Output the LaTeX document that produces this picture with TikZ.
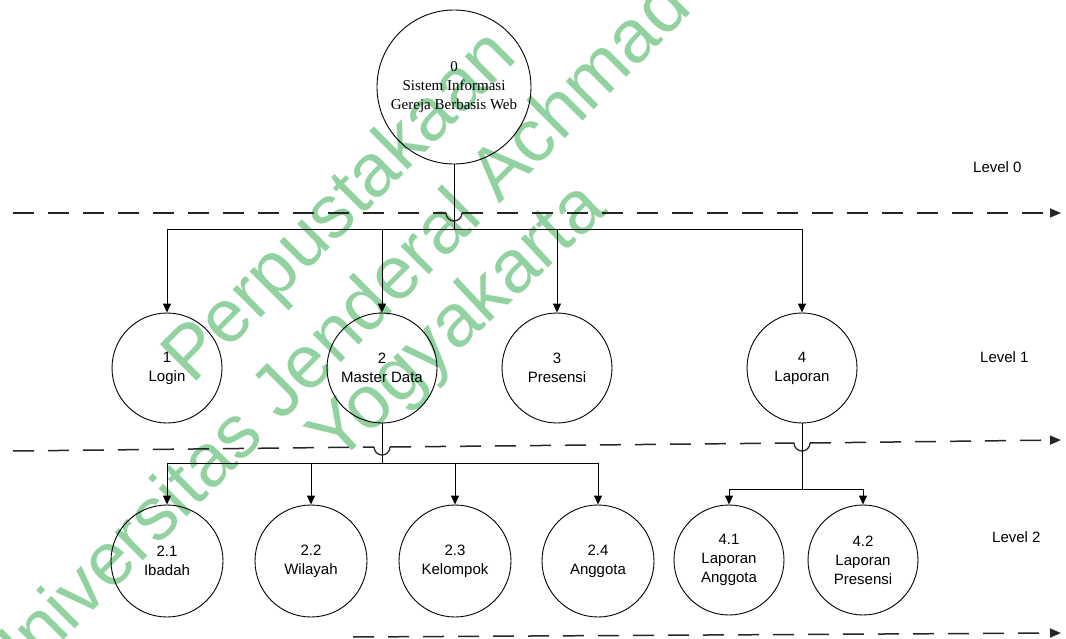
\documentclass[tikz,border=0pt]{standalone}
\usepackage{fontspec}
\setmainfont{Liberation Sans}
\newfontfamily\ctxserif{Liberation Serif}
\usetikzlibrary{arrows.meta}
\definecolor{wmgreen}{RGB}{146,210,160}
\begin{document}
\begin{tikzpicture}[x=1pt,y=-1pt,
  proc/.style={circle,draw,line width=0.9pt,minimum size=110pt,inner sep=0pt,align=center,
    font=\fontsize{15}{19}\selectfont},
  flow/.style={line width=0.9pt,-{Triangle[length=9pt,width=8pt]}},
  link/.style={line width=0.9pt},
  levelline/.style={line width=1.5pt,black!85,dash pattern=on 21pt off 14pt},
  levelhead/.style={-{Triangle[length=11pt,width=9pt]}},
  hop/.style={line width=1.3pt,black!85},
  levellabel/.style={font=\fontsize{15}{18}\selectfont,anchor=west,inner sep=0pt},
  wm/.style={text=wmgreen,font=\fontsize{75}{78}\selectfont,anchor=base west,rotate=44,inner sep=0pt}]

\useasboundingbox (0,0) rectangle (1066,639);

% library watermark
\begin{scope}
  \clip (0,0) rectangle (1066,639);
  \node[wm,rotate=1] (wm1) at (192,386) {Perpustakaan};
  \node[wm,rotate=1] (wm2) at (4,700) {Universitas Jenderal Achmad Yani};
  \node[wm,rotate=-1] (wm3) at (336,466) {Yogyakarta};
\end{scope}

% context process
\node[proc,minimum size=154pt,font=\ctxserif\fontsize{15}{19}\selectfont] (p0) at (454,87)
  {0\\Sistem Informasi\\Gereja Berbasis Web};

% level 1 processes
\node[proc] (p1) at (167,368) {1\\Login};
\node[proc] (p2) at (382,368) {2\\Master Data};
\node[proc] (p3) at (557,368) {3\\Presensi};
\node[proc] (p4) at (802,368) {4\\Laporan};

% level 2 processes
\node[proc,minimum size=112pt] (p21) at (167,561) {2.1\\Ibadah};
\node[proc,minimum size=112pt] (p22) at (311,561) {2.2\\Wilayah};
\node[proc,minimum size=112pt] (p23) at (455,561) {2.3\\Kelompok};
\node[proc,minimum size=112pt] (p24) at (598,561) {2.4\\Anggota};
\node[proc] (p41) at (729,560) {4.1\\Laporan\\Anggota};
\node[proc] (p42) at (863,560) {4.2\\Laporan\\Presensi};

% level labels
\node[levellabel] (lv0) at (973,167) {Level 0};
\node[levellabel] (lv1) at (980,357) {Level 1};
\node[levellabel] (lv2) at (992,537) {Level 2};

% level separators
\coordinate (s0a) at (13,213);
\coordinate (s0h) at (446,213);
\coordinate (s0k) at (462,213);
\coordinate (s0b) at (1061,213);
\draw[levelline] (s0a) -- (s0h);
\draw[hop] (s0h) arc[start angle=180,end angle=0,radius=8];
\draw[levelline,levelhead] (s0k) -- (s0b);

\coordinate (s1a) at (13,451);
\coordinate (s1h) at (374,447);
\coordinate (s1k) at (390,447);
\coordinate (s1m) at (794,443);
\coordinate (s1n) at (810,443);
\coordinate (s1b) at (1061,440);
\draw[levelline] (s1a) -- (s1h);
\draw[hop] (s1h) arc[start angle=180,end angle=0,radius=8];
\draw[levelline] (s1k) -- (s1m);
\draw[hop] (s1m) arc[start angle=180,end angle=0,radius=8];
\draw[levelline,levelhead] (s1n) -- (s1b);

\coordinate (s2a) at (353,637);
\coordinate (s2b) at (1061,633);
\draw[levelline,levelhead] (s2a) -- (s2b);

% decomposition of the context process
\coordinate (b0) at (454,229);
\draw[link] (p0.south) -- (b0);
\draw[flow] (b0) -| (p1.north);
\draw[flow] (b0) -| (p2.north);
\draw[flow] (b0) -| (p3.north);
\draw[flow] (b0) -| (p4.north);

% decomposition of Master Data
\coordinate (b2) at (382,463);
\draw[link] (p2.south) -- (b2);
\draw[flow] (b2) -| (p21.north);
\draw[flow] (b2) -| (p22.north);
\draw[flow] (b2) -| (p23.north);
\draw[flow] (b2) -| (p24.north);

% decomposition of Laporan
\coordinate (b4) at (802,489);
\draw[link] (p4.south) -- (b4);
\draw[flow] (b4) -| (p41.north);
\draw[flow] (b4) -| (p42.north);
\end{tikzpicture}
\end{document}
